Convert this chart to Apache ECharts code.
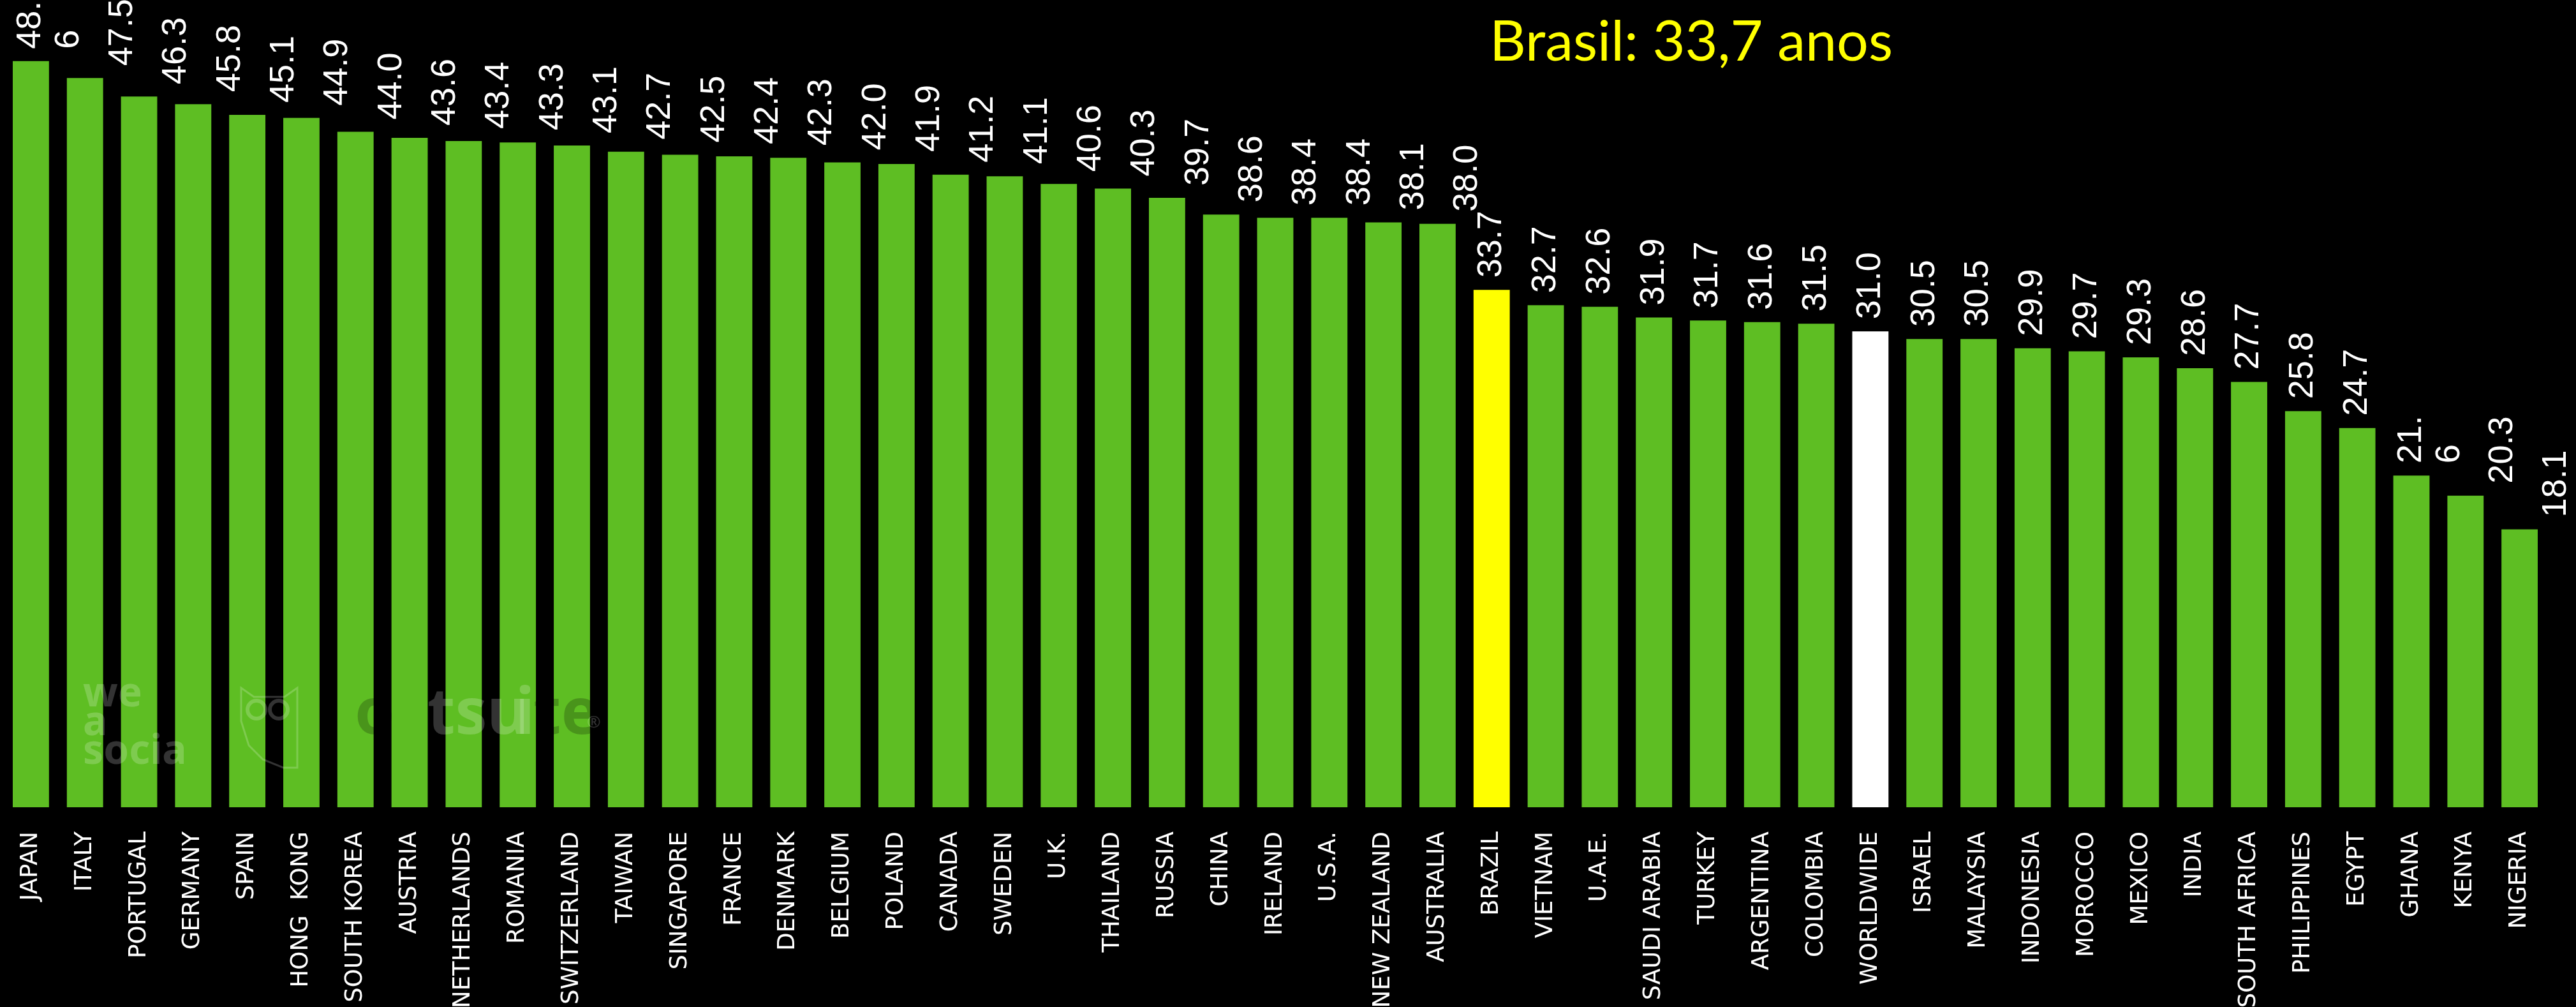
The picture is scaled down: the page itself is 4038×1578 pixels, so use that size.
<!DOCTYPE html>
<html><head><meta charset="utf-8">
<script src="https://cdn.jsdelivr.net/npm/echarts@6/dist/echarts.min.js"></script>
<style>html,body{margin:0;padding:0;background:#000}#c{width:4038px;height:1578px}</style>
</head><body><div id="c"></div>
<script>
// ---- data ----
const categories = ['JAPAN','ITALY','PORTUGAL','GERMANY','SPAIN','HONG  KONG','SOUTH KOREA','AUSTRIA','NETHERLANDS','ROMANIA','SWITZERLAND','TAIWAN','SINGAPORE','FRANCE','DENMARK','BELGIUM','POLAND','CANADA','SWEDEN','U.K.','THAILAND','RUSSIA','CHINA','IRELAND','U.S.A.','NEW ZEALAND','AUSTRALIA','BRAZIL','VIETNAM','U.A.E.','SAUDI ARABIA','TURKEY','ARGENTINA','COLOMBIA','WORLDWIDE','ISRAEL','MALAYSIA','INDONESIA','MOROCCO','MEXICO','INDIA','SOUTH AFRICA','PHILIPPINES','EGYPT','GHANA','KENYA','NIGERIA'];
const medianAge = [48.6,47.5,46.3,45.8,45.1,44.9,44.0,43.6,43.4,43.3,43.1,42.7,42.5,42.4,42.3,42.0,41.9,41.2,41.1,40.6,40.3,39.7,38.6,38.4,38.4,38.1,38.0,33.7,32.7,32.6,31.9,31.7,31.6,31.5,31.0,30.5,30.5,29.9,29.7,29.3,28.6,27.7,25.8,24.7,21.6,20.3,18.1];
const highlightYellow = ['BRAZIL'];
const highlightWhite = ['WORLDWIDE'];
const wrappedLabelCategories = ['JAPAN','GHANA'];
const titleText = 'Brasil: 33,7 anos';

// ---- style ----
const GREEN = '#5EBE23', YELLOW = '#FFFF00', WHITE = '#FFFFFF';
const LINE_H = 60;
function labelShift(i, name) {
  if (wrappedLabelCategories.includes(name)) return LINE_H / 2;
  if (i >= 1 && i <= 26) return 59 - (i - 1) * 12 / 25;
  if (i >= 45) return 58;
  return 0;
}

const seriesData = medianAge.map((v, i) => {
  const name = categories[i];
  let color = GREEN;
  if (highlightYellow.includes(name)) color = YELLOW;
  if (highlightWhite.includes(name)) color = WHITE;
  return { value: v, itemStyle: { color }, label: { offset: [0, labelShift(i, name)] } };
});

const WM_LIGHT = 'rgba(255,255,255,0.2)';
const WM_DARK = 'rgba(0,0,0,0.22)';

const chart = echarts.init(document.getElementById('c'), null, { renderer: 'canvas' });
chart.setOption({
  backgroundColor: '#000000',
  animation: false,
  grid: { left: 6, right: 46, top: 14, bottom: 313, containLabel: false, outerBoundsMode: 'none' },
  xAxis: {
    type: 'category',
    data: categories,
    axisLine: { show: false },
    axisTick: { show: false },
    axisLabel: {
      interval: 0, rotate: 90, margin: 38,
      color: '#FFFFFF', fontFamily: 'DejaVu Sans', fontSize: 37
    }
  },
  yAxis: { type: 'value', min: 0, max: 52, show: false, splitLine: { show: false } },
  graphic: [
    { type: 'text', style: { x: 2651, y: 67, text: titleText, fill: YELLOW,
      font: '88px Lato', textAlign: 'center', textVerticalAlign: 'middle' }, z: 10 },
    // faint watermarks
    { type: 'text', style: { x: 130, y: 1066, text: 'we\na\nsocia', fill: WM_LIGHT,
      font: 'bold 64px "Noto Sans"', lineHeight: 45, textAlign: 'left', textVerticalAlign: 'top' }, z: 10 },
    { type: 'polygon', shape: { points: [[378,1078],[398,1092],[446,1092],[466,1078],[466,1203],[444,1203],[412,1190],[390,1168],[378,1130]] },
      style: { fill: null, stroke: WM_LIGHT, lineWidth: 3 }, z: 10 },
    { type: 'circle', shape: { cx: 402, cy: 1112, r: 14 }, style: { fill: null, stroke: WM_LIGHT, lineWidth: 6 }, z: 10 },
    { type: 'circle', shape: { cx: 437, cy: 1112, r: 14 }, style: { fill: null, stroke: WM_LIGHT, lineWidth: 6 }, z: 10 },
    { type: 'text', style: { x: 556, y: 1072, text: 'o', fill: WM_DARK,
      font: 'bold 100px "Noto Sans"', textAlign: 'left', textVerticalAlign: 'top' }, z: 10 },
    { type: 'text', style: { x: 670, y: 1072, text: 'tsu', fill: WM_LIGHT,
      font: 'bold 100px "Noto Sans"', textAlign: 'left', textVerticalAlign: 'top' }, z: 10 },
    { type: 'text', style: { x: 808, y: 1072, text: 'i', fill: WM_LIGHT,
      font: 'bold 100px "Noto Sans"', textAlign: 'left', textVerticalAlign: 'top' }, z: 10 },
    { type: 'text', style: { x: 836, y: 1072, text: 'te', fill: WM_DARK,
      font: 'bold 100px "Noto Sans"', textAlign: 'left', textVerticalAlign: 'top' }, z: 10 },
    { type: 'text', style: { x: 920, y: 1120, text: '\u00AE', fill: WM_LIGHT,
      font: '26px "Noto Sans"', textAlign: 'left', textVerticalAlign: 'top' }, z: 10 }
  ],
  series: [{
    type: 'bar',
    data: seriesData,
    barCategoryGap: '33%',
    label: {
      show: true, position: 'top', distance: 19, rotate: 90,
      align: 'left', verticalAlign: 'middle',
      color: '#FFFFFF', fontFamily: '"Liberation Sans Narrow", "Liberation Sans"', fontSize: 54,
      lineHeight: LINE_H,
      formatter: p => {
        const s = p.value.toFixed(1);
        return wrappedLabelCategories.includes(p.name) ? s.replace('.', '.\n') : s;
      }
    }
  }]
});
</script></body></html>
